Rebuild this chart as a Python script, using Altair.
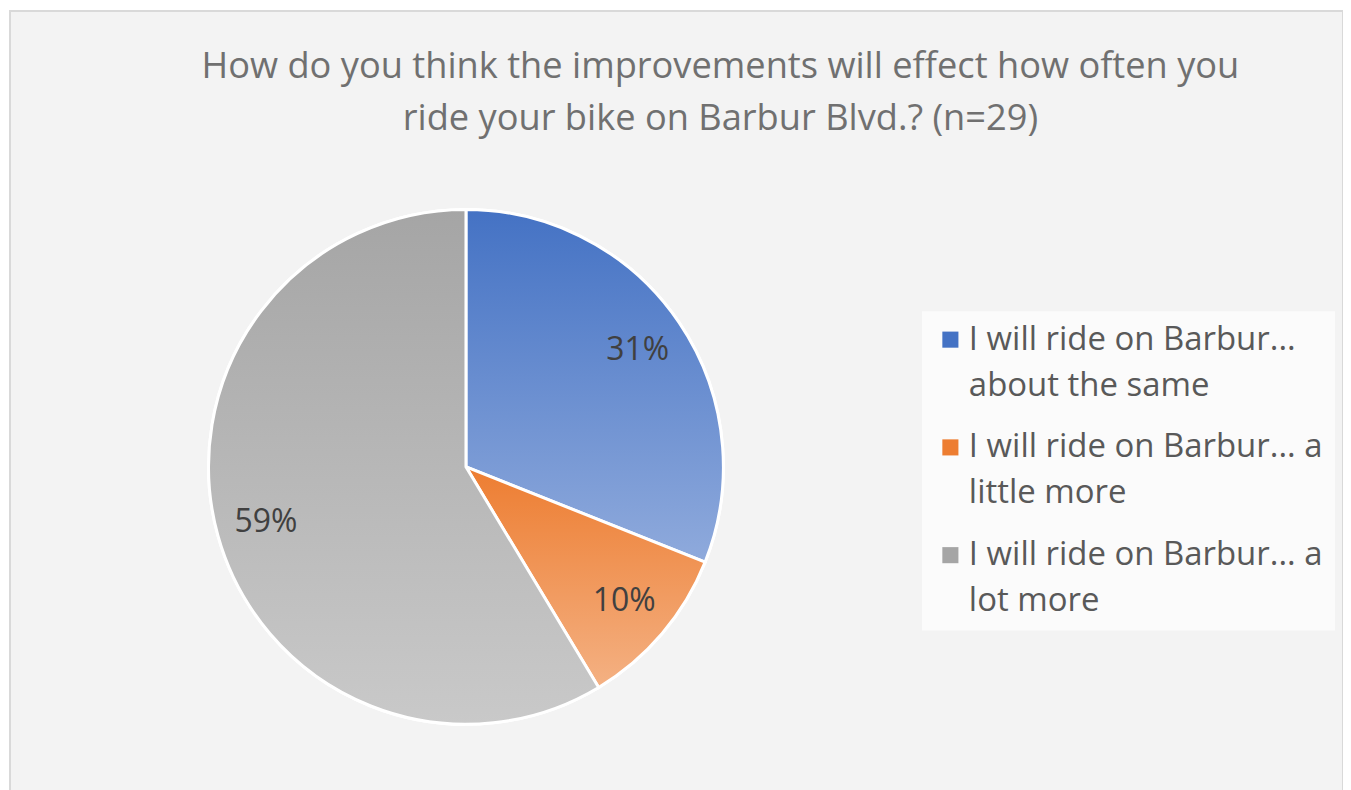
import altair as alt
import pandas as pd

# ---- data ----
categories = [
    "I will ride on Barbur...\nabout the same",
    "I will ride on Barbur... a\nlittle more",
    "I will ride on Barbur... a\nlot more",
]
counts = [9, 3, 17]          # n = 29 -> 31%, 10%, 59%
order = [0, 1, 2]
solid_colors = ["#4472C4", "#ED7D31", "#A5A5A5"]
grad_top = ["#4472C4", "#ED7D31", "#A5A5A5"]
grad_bottom = ["#8FAADC", "#F4B183", "#C9C9C9"]
title_lines = [
    "How do you think the improvements will effect how often you",
    "ride your bike on Barbur Blvd.? (n=29)",
]

df = pd.DataFrame({"category": categories, "count": counts, "order": order})

FONT = "Open Sans"
CX, CY, R = 457, 457, 258

theta_scale = alt.Scale(domain=[0, sum(counts)], range=[0, 6.283185307179586])

base = (
    alt.Chart(df)
    .transform_window(cum="sum(count)", sort=[alt.SortField("order")], frame=[None, 0])
    .transform_joinaggregate(total="sum(count)")
    .transform_calculate(
        start="datum.cum - datum.count",
        mid="datum.cum - datum.count / 2",
        pct="datum.count / datum.total",
    )
)

legend_layer = base.mark_arc(outerRadius=R, stroke="white", strokeWidth=3).encode(
    theta=alt.Theta("start:Q", scale=theta_scale),
    theta2="cum:Q",
    x=alt.value(CX),
    y=alt.value(CY),
    color=alt.Color(
        "category:N",
        scale=alt.Scale(domain=categories, range=solid_colors),
        legend=alt.Legend(
            title=None,
            orient="none",
            legendX=914,
            legendY=301,
            labelExpr="split(datum.label, '\\n')",
        ),
    ),
)

layers = [legend_layer]
for i in range(len(categories)):
    grad = alt.Gradient(
        gradient="linear",
        x1=0, y1=0, x2=0, y2=1,
        stops=[
            alt.GradientStop(offset=0, color=grad_top[i]),
            alt.GradientStop(offset=1, color=grad_bottom[i]),
        ],
    )
    layers.append(
        base.transform_filter(alt.datum.order == i)
        .mark_arc(outerRadius=R, stroke="white", strokeWidth=3, color=grad)
        .encode(
            theta=alt.Theta("start:Q", scale=theta_scale),
            theta2="cum:Q",
            x=alt.value(CX),
            y=alt.value(CY),
        )
    )

labels = base.mark_text(
    radius=208, fontSize=32, font=FONT, color="#404040"
).encode(
    theta=alt.Theta("mid:Q", scale=theta_scale),
    text=alt.Text("pct:Q", format=".0%"),
    x=alt.value(CX),
    y=alt.value(CY),
)
layers.append(labels)

title = (
    alt.Chart(pd.DataFrame({"k": [0]}))
    .mark_text(
        fontSize=36.3, font=FONT, color="#707070", baseline="alphabetic",
        align="center", lineHeight=52,
    )
    .encode(x=alt.value(712), y=alt.value(67), text=alt.value(title_lines))
)
layers.append(title)

chart = (
    alt.layer(*layers)
    .properties(
        width=1338,
        height=790,
        padding={"left": 2, "top": 2, "right": 0, "bottom": 0},
        autosize=alt.AutoSizeParams(type="fit", contains="padding"),
        background="white",
    )
    .configure(style={"guide-label": {"lineHeight": 46}})
    .configure_view(fill="#f3f3f3", stroke="#d9d9d9", strokeWidth=2)
    .configure_legend(
        labelFont=FONT,
        labelFontSize=33,
        labelColor="#595959",
        labelLimit=600,
        symbolType="square",
        symbolSize=260,
        symbolStrokeWidth=0,
        rowPadding=28,
        fillColor="#fbfbfb",
        padding=12,
        labelOffset=2,
    )
)

chart.save("out.html", embed_options={"renderer": "svg", "actions": False})
